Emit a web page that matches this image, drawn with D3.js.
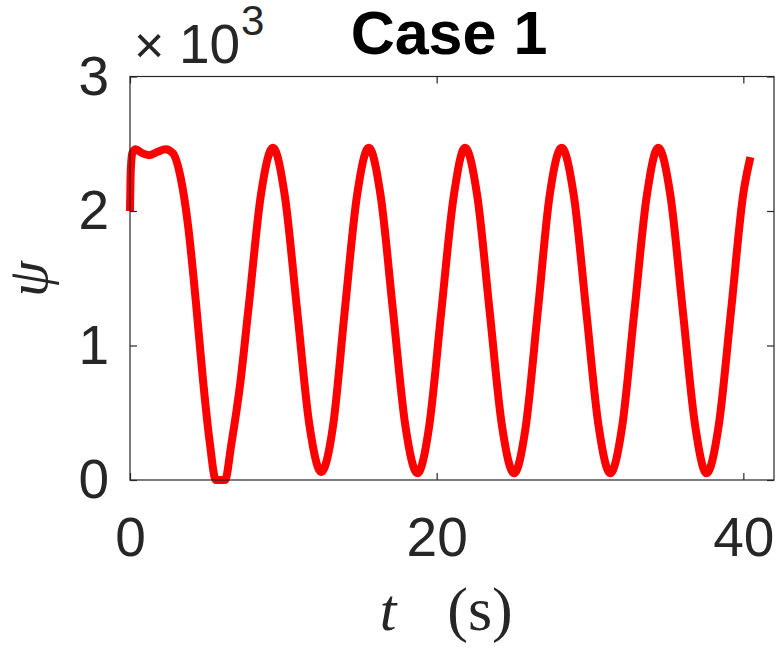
<!DOCTYPE html>
<html>
<head>
<meta charset="utf-8">
<script src="https://cdn.jsdelivr.net/npm/d3@7"></script>
<style>
  html, body { margin: 0; padding: 0; background: #fff; }
  svg { display: block; }
</style>
</head>
<body>
<div id="chart"></div>
<script>
// ---- data ----
const tValues = [0, 0.05, 0.15, 0.35, 0.8, 1.25, 1.8, 2.3, 2.8, 3.3, 3.8, 4.3, 4.76, 5.2, 5.6, 5.9, 6.2, 6.6, 7.17, 7.75, 8.55,
  9.32, 10.1, 10.9, 11.7, 12.47, 13.25, 14.0, 14.8, 15.57, 16.35, 17.15, 17.95, 18.75, 19.5, 20.3, 21.1,
  21.85, 22.65, 23.45, 24.25, 25.05, 25.8, 26.6, 27.35, 28.15, 28.95, 29.75, 30.55, 31.32, 32.1, 32.9, 33.7,
  34.45, 35.25, 36.05, 36.85, 37.6, 38.4, 39.2, 40.0, 40.46];
const psiValues = [2000, 2300, 2430, 2460, 2430, 2415, 2440, 2460, 2430, 2250, 1880, 1320, 745, 280, 0, 0, 0, 260, 700, 1300, 2130,
  2470, 2110, 1260, 410, 60, 410, 1250, 2110, 2470, 2110, 1260, 410, 50, 390, 1250, 2100,
  2470, 2110, 1260, 410, 50, 390, 1260, 2100, 2470, 2110, 1260, 410, 50, 400, 1260, 2110,
  2470, 2110, 1260, 410, 50, 410, 1260, 2130, 2400];
const xTicks = [0, 20, 40];
const yTicks = [0, 1000, 2000, 3000];
const yTickLabels = ["0", "1", "2", "3"];
const xDomain = [0, 42];
const yDomain = [0, 3000];
const titleText = "Case 1";

// ---- layout ----
const W = 778, H = 648;
const L = 130, R = 774, T = 76.5, B = 480;
const axisColor = "#262626";
const font = "'Liberation Sans', Arial, Helvetica, sans-serif";
const serif = "'Liberation Serif', 'DejaVu Serif', serif";
const tickFontSize = 55;

const svg = d3.select("#chart").append("svg").attr("width", W).attr("height", H);

const x = d3.scaleLinear().domain(xDomain).range([L, R]);
const y = d3.scaleLinear().domain(yDomain).range([B, T]);

const data = tValues.map((t, i) => ({ t, v: psiValues[i] }));

// line
const line = d3.line().x(d => x(d.t)).y(d => y(d.v)).curve(d3.curveMonotoneX);
svg.append("path")
  .datum(data)
  .attr("d", line)
  .attr("fill", "none")
  .attr("stroke", "#ff0000")
  .attr("stroke-width", 8)
  .attr("stroke-linejoin", "round")
  .attr("stroke-linecap", "butt");

// axes
function styleAxis(g) {
  g.select(".domain").remove();
  g.selectAll(".tick line").attr("stroke", axisColor).attr("stroke-width", 1.2);
  g.selectAll(".tick text").attr("fill", axisColor).attr("font-family", font).attr("font-size", tickFontSize);
}

svg.append("g").attr("transform", `translate(0,${B})`)
  .call(d3.axisBottom(x).tickValues(xTicks).tickFormat(d3.format("d")).tickSizeInner(-7).tickSizeOuter(0).tickPadding(37))
  .call(styleAxis);

svg.append("g").attr("transform", `translate(0,${T})`)
  .call(d3.axisTop(x).tickValues(xTicks).tickFormat("").tickSizeInner(-7).tickSizeOuter(0))
  .call(styleAxis);

svg.append("g").attr("transform", `translate(${L},0)`)
  .call(d3.axisLeft(y).tickValues(yTicks).tickFormat((d, i) => yTickLabels[i]).tickSizeInner(-7).tickSizeOuter(0).tickPadding(21))
  .call(styleAxis);

svg.append("g").attr("transform", `translate(${R},0)`)
  .call(d3.axisRight(y).tickValues(yTicks).tickFormat("").tickSizeInner(-7).tickSizeOuter(0))
  .call(styleAxis);

// box
svg.append("rect")
  .attr("x", L).attr("y", T).attr("width", R - L).attr("height", B - T)
  .attr("fill", "none").attr("stroke", axisColor).attr("stroke-width", 1.2);

// exponent label ×10^3
svg.append("text")
  .attr("x", 134).attr("y", 63)
  .attr("font-family", font).attr("fill", axisColor).attr("font-size", 52)
  .text("×");
svg.append("text")
  .attr("x", 179).attr("y", 63)
  .attr("font-family", font).attr("fill", axisColor).attr("font-size", 55)
  .text("10");
svg.append("text")
  .attr("x", 241).attr("y", 35)
  .attr("font-family", font).attr("fill", axisColor).attr("font-size", 42)
  .text("3");

// title
svg.append("text")
  .attr("x", 449).attr("y", 54)
  .attr("text-anchor", "middle")
  .attr("font-family", font).attr("font-weight", "bold")
  .attr("font-size", 61).attr("fill", "#000")
  .text(titleText);

// x label: t (s)
svg.append("text")
  .attr("x", 388).attr("y", 630)
  .attr("text-anchor", "middle")
  .attr("font-family", serif).attr("font-style", "italic")
  .attr("font-size", 60).attr("fill", axisColor)
  .text("t");
svg.append("text")
  .attr("x", 480).attr("y", 630)
  .attr("text-anchor", "middle")
  .attr("font-family", serif)
  .attr("font-size", 62).attr("fill", axisColor)
  .text("(s)");

// y label: ψ
svg.append("text")
  .attr("transform", `translate(47,279) rotate(-90)`)
  .attr("text-anchor", "middle")
  .attr("font-family", serif)
  .attr("font-style", "italic")
  .attr("font-size", 58).attr("fill", axisColor)
  .text("ψ");
</script>
</body>
</html>
